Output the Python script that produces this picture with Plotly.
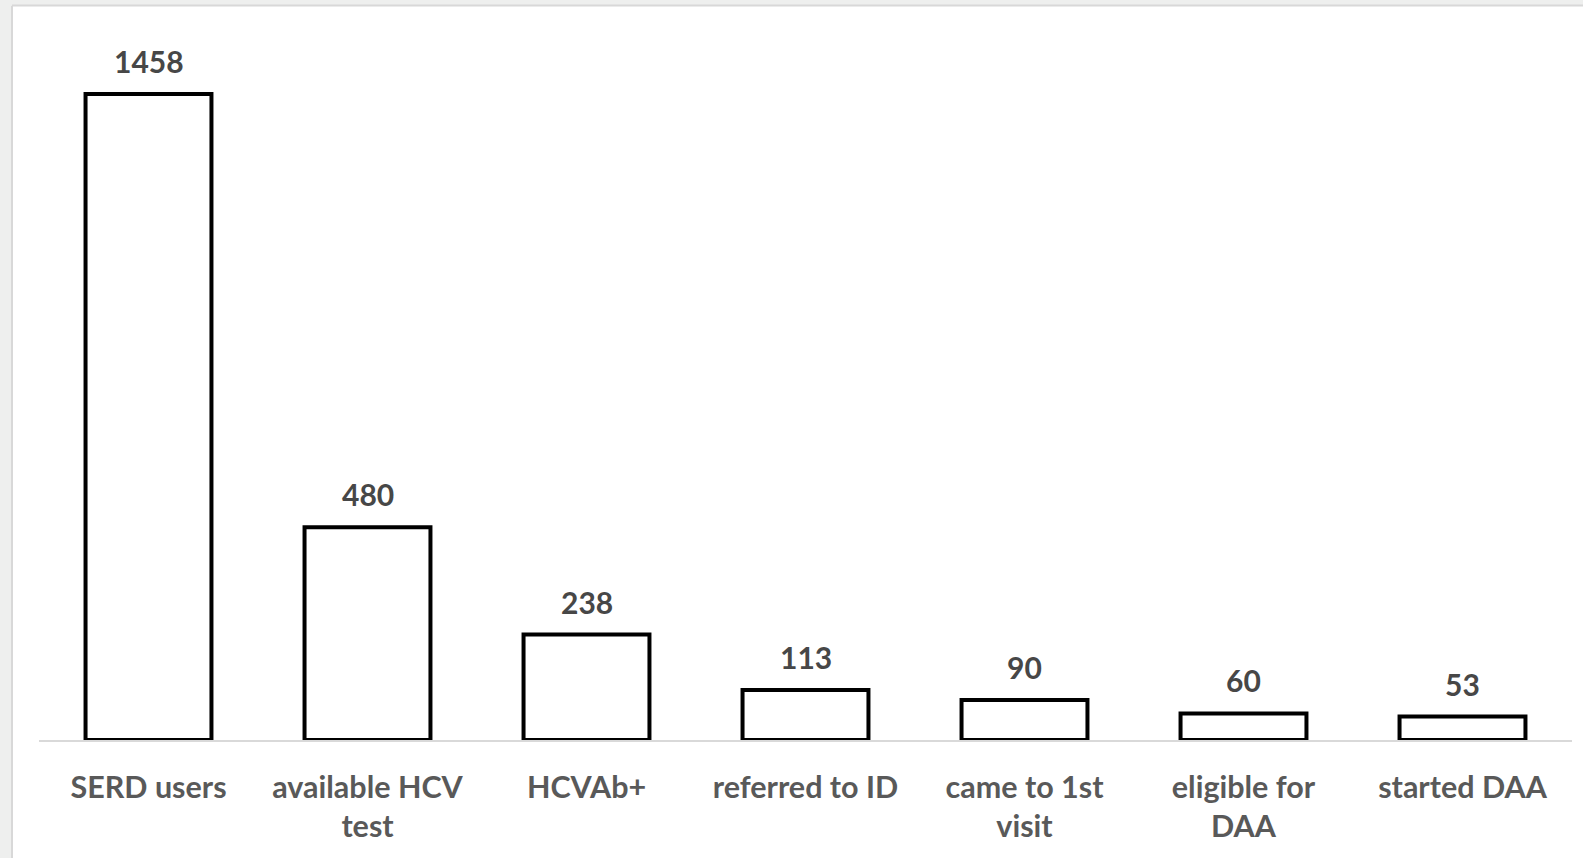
import plotly.graph_objects as go

# Care cascade counts
categories = ["SERD users", "available HCV<br>test", "HCVAb+", "referred to ID",
              "came to 1st<br>visit", "eligible for<br>DAA", "started DAA"]
counts = [1458, 480, 238, 113, 90, 60, 53]

W, H = 1583, 858
M_L, M_R, M_T, M_B = 39, 11, 31, 118
Y_MAX = 1600


def px_x(px):
    return (px - M_L) / (W - M_L - M_R)


def px_y(py):
    return 1 - (py - M_T) / (H - M_T - M_B)


fig = go.Figure(
    go.Bar(
        x=categories,
        y=counts,
        marker=dict(color="white", line=dict(color="black", width=4)),
        width=0.575,
        hoverinfo="x+y",
    )
)

# value labels above each bar
for c, v in zip(categories, counts):
    fig.add_annotation(
        x=c, y=v, text=f"<b>{v}</b>", showarrow=False,
        yanchor="bottom", yshift=13,
        font=dict(family="Lato", size=30, color="#474747"),
    )

# outer frame: grey strips at top/left with a thin border line
frame = "#eeefee"
border = "#d8d8d8"
fig.add_shape(type="rect", xref="paper", yref="paper", layer="below",
              x0=px_x(0), x1=px_x(11), y0=px_y(H), y1=px_y(0),
              fillcolor=frame, line_width=0)
fig.add_shape(type="rect", xref="paper", yref="paper", layer="below",
              x0=px_x(0), x1=px_x(W), y0=px_y(5), y1=px_y(0),
              fillcolor=frame, line_width=0)
fig.add_shape(type="line", xref="paper", yref="paper",
              x0=px_x(12), x1=px_x(12), y0=px_y(H), y1=px_y(5.5),
              line=dict(color=border, width=2))
fig.add_shape(type="line", xref="paper", yref="paper",
              x0=px_x(12), x1=px_x(W), y0=px_y(5.5), y1=px_y(5.5),
              line=dict(color=border, width=2))

fig.update_layout(
    width=W, height=H,
    margin=dict(l=M_L, r=M_R, t=M_T, b=M_B),
    paper_bgcolor="white",
    plot_bgcolor="white",
    showlegend=False,
    font=dict(family="Lato", color="#595959"),
)
fig.update_xaxes(
    showline=True, linecolor="#d9d9d9", linewidth=2,
    ticks="", showgrid=False, zeroline=False,
    tickvals=categories,
    ticktext=[f"<b>{c}</b>" for c in categories],
    tickfont=dict(family="Lato", size=30.5, color="#595959"),
    ticklabelstandoff=19,
)
fig.update_yaxes(
    range=[0, Y_MAX], visible=False, showgrid=False, zeroline=False,
)

fig.write_html("out.html")
